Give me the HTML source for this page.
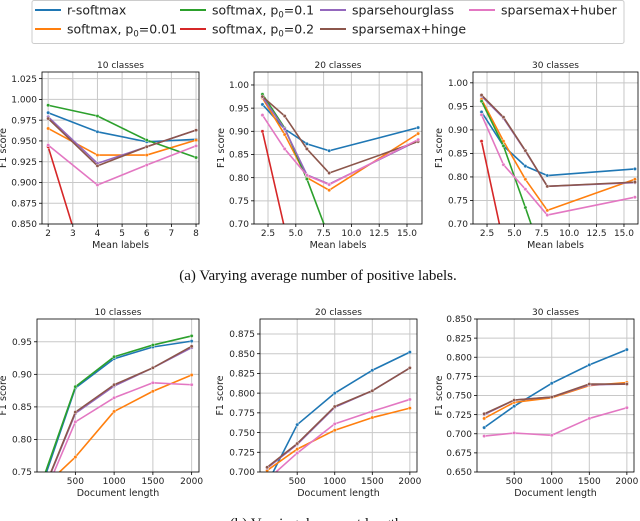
<!DOCTYPE html>
<html><head><meta charset="utf-8"><style>
html,body{margin:0;padding:0;background:#fff;width:640px;height:521px;overflow:hidden}
svg{display:block;font-family:"DejaVu Sans","Liberation Sans",sans-serif}
</style></head><body>
<svg id="fig" width="640" height="521" viewBox="0 0 640 521">
<g id="legend"></g>
<g id="plots"></g>
<text x="318" y="280" text-anchor="middle" font-family="Liberation Serif, serif" font-size="15" fill="#111">(a) Varying average number of positive labels.</text>
<text x="318" y="528" text-anchor="middle" font-family="Liberation Serif, serif" font-size="15" fill="#111">(b) Varying document length.</text>
</svg>
<script>
const seriesNames = ["r-softmax","softmax, p0=0.01","softmax, p0=0.1","softmax, p0=0.2","sparsehourglass","sparsemax+hinge","sparsemax+huber"];
const seriesColors = ["#1f77b4","#ff7f0e","#2ca02c","#d62728","#9467bd","#8c564b","#e377c2"];
const drawOrder = [0,1,2,3,4,5,6];

// Top row: mean labels
const meanLabels10 = [2,4,6,8];
const meanLabels2030 = [2,4,6,8,16];
const a10_rsoftmax = [0.984,0.961,0.949,0.952];
const a10_p001 = [0.965,0.933,0.933,0.951];
const a10_p01 = [0.993,0.980,0.951,0.930];
const a10_p02 = [0.943,0.750,0.700,0.680];
const a10_hourglass = [0.979,0.923,0.943,0.963];
const a10_hinge = [0.977,0.920,0.943,0.963];
const a10_huber = [0.945,0.897,0.921,0.944];

const a20_rsoftmax = [0.958,0.905,0.873,0.858,0.908];
const a20_p001 = [0.972,0.893,0.800,0.773,0.895];
const a20_p01 = [0.980,0.907,0.797,0.670,0.600];
const a20_p02 = [0.900,0.690,0.600,0.550,0.500];
const a20_hourglass = [0.974,0.905,0.806,0.786,0.880];
const a20_hinge = [0.975,0.933,0.862,0.810,0.878];
const a20_huber = [0.935,0.862,0.805,0.785,0.882];

const a30_rsoftmax = [0.938,0.866,0.823,0.803,0.817];
const a30_p001 = [0.965,0.876,0.795,0.729,0.795];
const a30_p01 = [0.961,0.866,0.735,0.600,0.500];
const a30_p02 = [0.876,0.660,0.600,0.550,0.500];
const a30_hourglass = [0.972,0.925,0.855,0.780,0.788];
const a30_hinge = [0.974,0.927,0.856,0.780,0.789];
const a30_huber = [0.932,0.826,0.774,0.719,0.757];

// Bottom row: document length
const docLengths = [100,500,1000,1500,2000];
const b10_rsoftmax = [0.740,0.879,0.924,0.942,0.951];
const b10_p001 = [0.728,0.773,0.843,0.874,0.899];
const b10_p01 = [0.745,0.881,0.927,0.945,0.959];
const b10_hourglass = [0.724,0.840,0.882,0.910,0.941];
const b10_hinge = [0.725,0.842,0.884,0.910,0.943];
const b10_huber = [0.715,0.827,0.864,0.887,0.884];

const b20_rsoftmax = [0.685,0.760,0.800,0.829,0.852];
const b20_p001 = [0.702,0.729,0.753,0.769,0.781];
const b20_hourglass = [0.705,0.735,0.782,0.803,0.832];
const b20_hinge = [0.706,0.736,0.783,0.803,0.832];
const b20_huber = [0.690,0.724,0.761,0.777,0.792];

const b30_rsoftmax = [0.708,0.736,0.766,0.790,0.810];
const b30_p001 = [0.720,0.741,0.747,0.763,0.767];
const b30_hourglass = [0.725,0.744,0.748,0.764,0.765];
const b30_hinge = [0.726,0.744,0.748,0.765,0.765];
const b30_huber = [0.697,0.701,0.698,0.720,0.734];

const yTicksA10 = ["0.850","0.875","0.900","0.925","0.950","0.975","1.000","1.025"];
const yTicksA2030 = ["0.70","0.75","0.80","0.85","0.90","0.95","1.00"];
const xTicksA10 = ["2","3","4","5","6","7","8"];
const xTicksA2030 = ["2.5","5.0","7.5","10.0","12.5","15.0"];
const yTicksB10 = ["0.75","0.80","0.85","0.90","0.95"];
const yTicksB20 = ["0.700","0.725","0.750","0.775","0.800","0.825","0.850","0.875"];
const yTicksB30 = ["0.650","0.675","0.700","0.725","0.750","0.775","0.800","0.825","0.850"];
const xTicksB = ["500","1000","1500","2000"];

const NS="http://www.w3.org/2000/svg";
function mk(tag,attrs,parent){const e=document.createElementNS(NS,tag);for(const k in attrs)e.setAttribute(k,attrs[k]);if(parent)parent.appendChild(e);return e;}

const panels = [
 {id:"a10",title:"10 classes",xl:"Mean labels",L:42,R:199,T:72,B:224,xmin:1.75,xmax:8.12,ymin:0.85,ymax:1.033,xs:meanLabels10,
  xt:xTicksA10,yt:yTicksA10,ylx:6,series:[a10_rsoftmax,a10_p001,a10_p01,a10_p02,a10_hourglass,a10_hinge,a10_huber]},
 {id:"a20",title:"20 classes",xl:"Mean labels",L:254,R:422,T:72,B:224,xmin:1.24,xmax:16.35,ymin:0.70,ymax:1.028,xs:meanLabels2030,
  xt:xTicksA2030,yt:yTicksA2030,ylx:224,series:[a20_rsoftmax,a20_p001,a20_p01,a20_p02,a20_hourglass,a20_hinge,a20_huber]},
 {id:"a30",title:"30 classes",xl:"Mean labels",L:473,R:638,T:72,B:224,xmin:1.22,xmax:16.28,ymin:0.70,ymax:1.023,xs:meanLabels2030,
  xt:xTicksA2030,yt:yTicksA2030,ylx:442,series:[a30_rsoftmax,a30_p001,a30_p01,a30_p02,a30_hourglass,a30_hinge,a30_huber]},
 {id:"b10",title:"10 classes",xl:"Document length",L:37,R:199,T:319,B:472,xmin:5,xmax:2095,ymin:0.75,ymax:0.985,xs:docLengths,
  xt:xTicksB,yt:yTicksB10,ylx:6,series:[b10_rsoftmax,b10_p001,b10_p01,null,b10_hourglass,b10_hinge,b10_huber]},
 {id:"b20",title:"20 classes",xl:"Document length",L:260,R:417,T:319,B:472,xmin:5,xmax:2095,ymin:0.70,ymax:0.894,xs:docLengths,
  xt:xTicksB,yt:yTicksB20,ylx:223,series:[b20_rsoftmax,b20_p001,null,null,b20_hourglass,b20_hinge,b20_huber]},
 {id:"b30",title:"30 classes",xl:"Document length",L:477,R:634,T:319,B:472,xmin:5,xmax:2095,ymin:0.65,ymax:0.85,xs:docLengths,
  xt:xTicksB,yt:yTicksB30,ylx:442,series:[b30_rsoftmax,b30_p001,null,null,b30_hourglass,b30_hinge,b30_huber]}
];

const plots=document.getElementById("plots");
panels.forEach(p=>{
  const g=mk("g",{},plots);
  
  
  const sx=v=>p.L+(v-p.xmin)/(p.xmax-p.xmin)*(p.R-p.L);
  const sy=v=>p.B-(v-p.ymin)/(p.ymax-p.ymin)*(p.B-p.T);
  const cp=mk("clipPath",{id:"clip-"+p.id},g);
  mk("rect",{x:p.L,y:p.T,width:p.R-p.L,height:p.B-p.T},cp);
  p.yt.forEach(t=>{
    const y=sy(parseFloat(t));
    const gl=mk("line",{x1:p.L,x2:p.R,y1:y,y2:y,stroke:"#c8c8c8","stroke-width":1},g);
    
    
    mk("line",{x1:p.L-3,x2:p.L,y1:y,y2:y,stroke:"#000","stroke-width":0.8},g);
    const tx=mk("text",{x:p.L-5,y:y+3.2,"text-anchor":"end","font-size":9,fill:"#222"},g);
    tx.textContent=t;
    
    
  });
  p.xt.forEach(t=>{
    const x=sx(parseFloat(t));
    const gl=mk("line",{x1:x,x2:x,y1:p.T,y2:p.B,stroke:"#c8c8c8","stroke-width":1},g);
    
    
    mk("line",{x1:x,x2:x,y1:p.B,y2:p.B+3,stroke:"#000","stroke-width":0.8},g);
    const tx=mk("text",{x:x,y:p.B+12,"text-anchor":"middle","font-size":9,fill:"#222"},g);
    tx.textContent=t;
    
    
  });
  const sg=mk("g",{"clip-path":"url(#clip-"+p.id+")"},g);
  drawOrder.forEach(i=>{
    const vals=p.series[i]; if(!vals) return;
    const pts=vals.map((v,j)=>sx(p.xs[j]).toFixed(2)+","+sy(v).toFixed(2)).join(" ");
    const pl=mk("polyline",{points:pts,fill:"none",stroke:seriesColors[i],"stroke-width":1.6,"stroke-linejoin":"round"},sg);
    
    
    vals.forEach((v,j)=>{
      const c=mk("circle",{cx:sx(p.xs[j]),cy:sy(v),r:1.7,fill:seriesColors[i],stroke:"#fff","stroke-width":0.4},sg);
      
      
    });
  });
  const fr=mk("rect",{x:p.L,y:p.T,width:p.R-p.L,height:p.B-p.T,fill:"none",stroke:"#000","stroke-width":0.8},g);
  
  
  const ti=mk("text",{x:(p.L+p.R)/2,y:p.T-4,"text-anchor":"middle","font-size":9,fill:"#222"},g);
  ti.textContent=p.title;
  
  
  const xl=mk("text",{x:(p.L+p.R)/2,y:p.B+24,"text-anchor":"middle","font-size":9.5,fill:"#222"},g);
  xl.textContent=p.xl;
  
  
  const cy=(p.T+p.B)/2;
  const yl=mk("text",{x:p.ylx,y:cy,"text-anchor":"middle","font-size":9.5,fill:"#222",transform:"rotate(-90 "+p.ylx+" "+cy+")"},g);
  yl.textContent="F1 score";
  
  
});

const lg=document.getElementById("legend");
const box=mk("rect",{x:32,y:0.5,width:592,height:43,fill:"#fff",stroke:"#ccc","stroke-width":1,rx:2},lg);


const legPos=[[35,14],[35,33],[180,14],[180,33],[320,14],[320,33],[469,14]];
seriesNames.forEach((n,i)=>{
  const [x,y]=legPos[i];
  const e=mk("g",{},lg);
  
  
  mk("line",{x1:x,x2:x+26,y1:y-4,y2:y-4,stroke:seriesColors[i],"stroke-width":2},e);
  const t=mk("text",{x:x+32,y:y+0.5,"font-size":12.5,fill:"#222"},e);
  const m=n.match(/^(.*p)0(=.*)$/);
  if(m){
    t.appendChild(document.createTextNode(m[1]));
    const s=mk("tspan",{"font-size":8.5,dy:3},t); s.textContent="0";
    const r=mk("tspan",{dy:-3},t); r.textContent=m[2];
  } else t.textContent=n;
});
</script>
</body></html>
